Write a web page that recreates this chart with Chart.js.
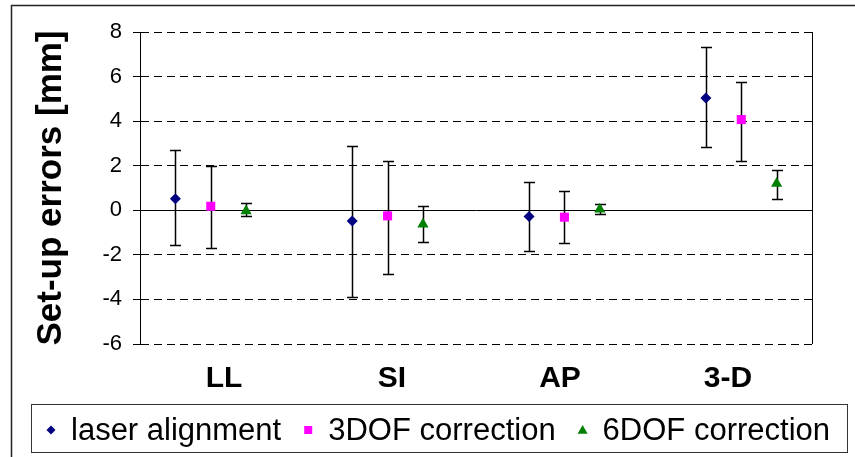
<!DOCTYPE html>
<html><head><meta charset="utf-8">
<script src="https://cdn.jsdelivr.net/npm/chart.js@4.4.0/dist/chart.umd.min.js"></script>
<style>html,body{margin:0;padding:0;background:#fff;}#wrap{width:855px;height:457px;position:relative;}canvas{display:block;}</style>
</head><body><div id="wrap"><canvas id="c" width="855" height="457"></canvas></div>
<script>
// ---- data ----
const categories = ['LL', 'SI', 'AP', '3-D'];
const seriesNames = ['laser alignment', '3DOF correction', '6DOF correction'];
const laserMean  = [0.52, -0.48, -0.28, 5.04];
const laserUpper = [2.69, 2.87, 1.27, 7.32];
const laserLower = [-1.54, -3.90, -1.82, 2.83];
const dof3Mean   = [0.18, -0.25, -0.31, 4.07];
const dof3Upper  = [1.99, 2.21, 0.87, 5.77];
const dof3Lower  = [-1.69, -2.84, -1.48, 2.21];
const dof6Mean   = [-0.03, -0.63, 0.05, 1.20];
const dof6Upper  = [0.33, 0.19, 0.27, 1.81];
const dof6Lower  = [-0.27, -1.43, -0.15, 0.52];
const yTicks = [-6, -4, -2, 0, 2, 4, 6, 8];
const yTitle = 'Set-up errors [mm]';

// ---- styling ----
const FONT = '"Liberation Sans", Arial, sans-serif';
const X_MIN = 0.6, X_MAX = 4.4;
const seriesOffsets = [-0.2, 0, 0.2];
const seriesStyles = [
  {color: '#000080', shape: 'rectRot', radius: 5.5, legendSize: 4.5},
  {color: '#FF00FF', shape: 'rect', radius: 6.4, legendSize: 4},
  {color: '#008000', shape: 'triangle', radius: 6.5, legendSize: 5}
];
const seriesData = [
  {mean: laserMean, upper: laserUpper, lower: laserLower},
  {mean: dof3Mean, upper: dof3Upper, lower: dof3Lower},
  {mean: dof6Mean, upper: dof6Upper, lower: dof6Lower}
];

const datasets = seriesData.map((s, si) => ({
  label: seriesNames[si],
  data: s.mean.map((v, i) => ({x: i + 1 + seriesOffsets[si], y: v})),
  errUpper: s.upper,
  errLower: s.lower,
  pointStyle: seriesStyles[si].shape,
  pointRadius: seriesStyles[si].radius,
  pointHoverRadius: seriesStyles[si].radius,
  backgroundColor: seriesStyles[si].color,
  borderColor: seriesStyles[si].color,
  borderWidth: 0,
  showLine: false
}));

const errorBars = {
  id: 'errorBars',
  beforeDatasetsDraw(chart) {
    const ctx = chart.ctx, ys = chart.scales.y;
    ctx.save();
    ctx.strokeStyle = '#000';
    ctx.lineWidth = 1.5;
    chart.data.datasets.forEach((ds, di) => {
      const meta = chart.getDatasetMeta(di);
      meta.data.forEach((pt, i) => {
        const x = Math.round(pt.x) + 0.5;
        const yt = Math.round(ys.getPixelForValue(ds.errUpper[i])) + 0.5;
        const yb = Math.round(ys.getPixelForValue(ds.errLower[i])) + 0.5;
        ctx.beginPath();
        ctx.moveTo(x, yt); ctx.lineTo(x, yb);
        ctx.moveTo(x - 5.5, yt); ctx.lineTo(x + 5.5, yt);
        ctx.moveTo(x - 5.5, yb); ctx.lineTo(x + 5.5, yb);
        ctx.stroke();
      });
    });
    ctx.restore();
  }
};

function drawMarker(ctx, shape, x, y, s) {
  ctx.beginPath();
  if (shape === 'rectRot') {
    ctx.moveTo(x, y - s); ctx.lineTo(x + s, y); ctx.lineTo(x, y + s); ctx.lineTo(x - s, y);
  } else if (shape === 'rect') {
    ctx.rect(x - s, y - s, 2 * s, 2 * s);
  } else {
    ctx.moveTo(x, y - s); ctx.lineTo(x + s, y + s * 0.75); ctx.lineTo(x - s, y + s * 0.75);
  }
  ctx.closePath();
  ctx.fill();
}

const framePlugin = {
  id: 'framePlugin',
  afterDraw(chart) {
    const ctx = chart.ctx, a = chart.chartArea;
    ctx.save();
    // right border of plot area
    ctx.strokeStyle = '#000'; ctx.lineWidth = 1;
    ctx.beginPath();
    ctx.moveTo(Math.round(a.right) + 0.5, a.top);
    ctx.lineTo(Math.round(a.right) + 0.5, a.bottom);
    ctx.stroke();
    // outer frame
    ctx.strokeStyle = '#222'; ctx.lineWidth = 1.5;
    ctx.strokeRect(11.5, 5.5, 900, 500);
    // legend
    ctx.strokeStyle = '#333'; ctx.lineWidth = 1;
    ctx.strokeRect(31.5, 404.5, 816, 48);
    ctx.font = '31px ' + FONT;
    ctx.textBaseline = 'alphabetic';
    ctx.textAlign = 'left';
    let x = 51;
    const yText = 440, yMark = 430;
    chart.data.datasets.forEach((ds, di) => {
      ctx.fillStyle = seriesStyles[di].color;
      drawMarker(ctx, seriesStyles[di].shape, x, yMark, seriesStyles[di].legendSize);
      ctx.fillStyle = '#000';
      ctx.fillText(ds.label, x + 20, yText);
      x = x + 20 + ctx.measureText(ds.label).width + 27;
    });
    ctx.restore();
  }
};

new Chart(document.getElementById('c'), {
  type: 'scatter',
  data: {datasets},
  plugins: [errorBars, framePlugin],
  options: {
    responsive: false,
    animation: false,
    devicePixelRatio: 1,
    layout: {padding: {left: 12, right: 43, top: 32, bottom: 57}},
    plugins: {legend: {display: false}, tooltip: {enabled: false}},
    scales: {
      x: {
        type: 'linear', min: X_MIN, max: X_MAX,
        afterBuildTicks(scale) {
          const n = categories.length;
          scale.ticks = categories.map((c, i) => ({value: X_MIN + (i + 0.5) * (X_MAX - X_MIN) / n}));
        },
        afterFit(scale) { scale.height = 56; },
        grid: {display: false, drawTicks: false},
        border: {display: false},
        ticks: {
          autoSkip: false, maxRotation: 0, padding: 17, color: '#000',
          font: {family: FONT, size: 30, weight: 'bold'},
          callback: (v, i) => categories[i]
        }
      },
      y: {
        type: 'linear', min: -6, max: 8,
        afterBuildTicks(scale) { scale.ticks = yTicks.map(v => ({value: v})); },
        afterFit(scale) { scale.width = 128; },
        grid: {color: '#000', lineWidth: 1, drawTicks: true, tickLength: 7, tickColor: '#000'},
        border: {display: true, color: '#000', width: 1,
          dash: (ctx) => (ctx.tick && ctx.tick.value === 0) ? [] : [8, 5]},
        ticks: {padding: 11, color: '#000', font: {family: FONT, size: 22}},
        title: {display: true, text: yTitle, color: '#000',
          font: {family: FONT, size: 35, weight: 'bold'}, padding: {top: 18, bottom: 0}}
      }
    }
  }
});
</script>
</body></html>
